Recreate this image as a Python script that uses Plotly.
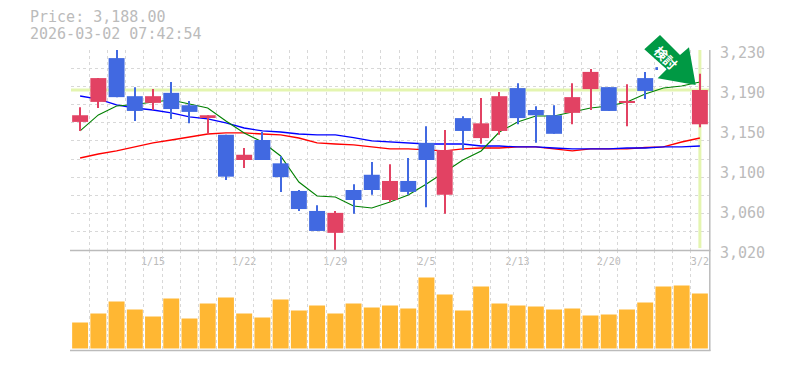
import plotly.graph_objects as go

W, H = 785, 370
L, R, T, B = 71, 709, 50, 350

dates = ["1/8","1/9","1/13","1/14","1/15","1/16","1/19","1/20","1/21","1/22","1/23","1/26","1/27","1/28","1/29",
         "1/30","2/2","2/3","2/4","2/5","2/6","2/9","2/10","2/12","2/13","2/16","2/17","2/18","2/19","2/20",
         "2/24","2/25","2/26","2/27","3/2"]
label_dates = ["1/15","1/22","1/29","2/5","2/13","2/20","3/2"]

opens = [3154.5,3175.5,3221.5,3181.5,3174.5,3185,3172,3159.5,3141,3114.5,3135.5,3111,3082,3061,3038,
         3083,3099,3072.5,3092.5,3132.5,3078,3158.5,3137.5,3145,3190,3167,3161.5,3164,3189,3191,
         3174.5,3200.5,3212,3217.5,3152]
closes = [3161.5,3200.5,3180.5,3166,3181.5,3168,3165,3161.5,3097,3120,3114.5,3096.5,3063,3040,3059,
          3072.5,3083,3092.5,3081,3114.5,3125,3145,3153,3181.5,3158.5,3161.5,3142,3180.5,3207,3166,
          3176.5,3187,3210,3202.5,3188]
highs = [3170,3200.5,3230,3191,3189,3196.5,3176.5,3161.5,3141,3127,3144,3118.5,3083,3067,3061,
         3089,3112.5,3110,3116.5,3150,3146,3160.5,3179.5,3186,3195,3171,3172,3195,3210,3191,
         3194,3207,3225,3221.5,3205]
lows = [3145,3169,3180.5,3155.5,3167,3157.5,3153,3142,3093.5,3106,3114.5,3081,3061,3040,3020,
        3058,3078,3070.5,3078,3065,3058,3125,3131.5,3141,3152,3132.5,3142,3152,3167,3166,
        3150,3178.5,3210,3200.5,3149]
ma_green = [3145,3161.8,3171.2,3172.8,3175.4,3177.5,3173.3,3169.1,3155.5,3142.9,3133.4,3118.7,3091.4,3076.7,3075.7,
            3066.2,3064.1,3070.4,3077.8,3089.3,3101.9,3114.5,3124,3143.9,3154.4,3160.7,3160.7,3164.9,3169.1,3171.2,
            3175.4,3183.8,3190.1,3192.2,3196.4]
ma_blue = [3181.7,3178.5,3172.3,3169.1,3167,3163.9,3159.7,3157.6,3153.4,3148.1,3145,3143.9,3141.8,3140.8,3140.8,
           3138.1,3134.5,3133.4,3132.4,3131.3,3131.3,3131.3,3129.2,3129.2,3128.2,3128.2,3127.1,3126.1,3126.1,3126.1,
           3127.1,3127.1,3128.2,3128.2,3129.2]
ma_red = [3116.6,3120.8,3124,3128.2,3132.4,3135.5,3138.7,3141.8,3142.9,3142.9,3141.8,3140.8,3137.6,3132.4,3131.3,
          3130.3,3128.2,3126.1,3126.1,3125,3124,3126.1,3127.1,3127.1,3128.2,3128.2,3126.1,3124,3126.1,3126.1,
          3126.1,3127.6,3128.2,3133.4,3137.6]
volumes = [26,35,47,39,32,50,30,45,51,35,31,49,38,43,35,45,41,43,40,71,54,38,62,45,43,42,39,40,33,34,39,46,62,63,55]

y_ticks = [3230,3188,3146,3104,3062,3020]
y_labels = ["3,230","3,190","3,150","3,100","3,060","3,020"]
last_price = 3188
title_lines = ["Price: 3,188.00", "2026-03-02 07:42:54"]

RED, BLUE, ORANGE = "#E24263", "#4169E1", "#FFB733"
GRID, AXIS, TEXT = "#D8D8D8", "#BBBBBB", "#BBBBBB"
PALE, ARROW = "#E4F5B0", "#009944"
FONT = "DejaVu Sans Mono"

n = len(dates)
xs = list(range(n))
up = [i for i in xs if closes[i] >= opens[i]]
down = [i for i in xs if closes[i] < opens[i]]

fig = go.Figure()
for vals, col, wd in [(ma_red, "#FF0000", 1.3), (ma_blue, "#0000FF", 1.3), (ma_green, "#008000", 1.1)]:
    fig.add_trace(go.Scatter(x=xs, y=vals, mode="lines", line=dict(color=col, width=wd), zorder=1, hoverinfo="skip"))

for idx, col in [(up, RED), (down, BLUE)]:
    fig.add_trace(go.Bar(x=idx, y=[highs[i]-lows[i] for i in idx], base=[lows[i] for i in idx], width=0.055,
                         marker=dict(color=col, line_width=0), zorder=2, hoverinfo="skip"))
    fig.add_trace(go.Bar(x=idx, y=[abs(closes[i]-opens[i]) for i in idx], base=[min(opens[i], closes[i]) for i in idx],
                         width=0.875, marker=dict(color=col, line_width=0), zorder=3, hoverinfo="skip"))

fig.add_trace(go.Bar(x=xs, y=volumes, width=0.875, marker=dict(color=ORANGE, line_width=0),
                     xaxis="x2", yaxis="y2", hoverinfo="skip"))

half = [i - 0.5 for i in range(n + 1)]
step = (y_ticks[0] - y_ticks[-1]) / 11
y_minor = [y_ticks[-1] + step * k for k in range(12)]
grid_style = dict(showgrid=True, gridcolor=GRID, griddash="3px,3px", gridwidth=1, ticks="")

fig.update_layout(
    width=W, height=H, autosize=False, showlegend=False, barmode="overlay",
    plot_bgcolor="white", paper_bgcolor="white",
    margin=dict(l=L, r=W-R, t=T, b=H-B, pad=0),
    font=dict(family=FONT, color=TEXT),
    xaxis=dict(domain=[0, 1], range=[-0.5, n-0.5], anchor="y", showgrid=False, zeroline=False, automargin=False,
               tickmode="array", tickvals=[dates.index(d) for d in label_dates], ticktext=label_dates,
               ticks="", tickfont=dict(family=FONT, size=10, color=TEXT), ticklabelstandoff=4,
               minor=dict(tickmode="array", tickvals=half, **grid_style)),
    yaxis=dict(domain=[1/3, 1], range=[y_ticks[-1], y_ticks[0]], anchor="x", side="right", zeroline=False, showgrid=False,
               automargin=False, tickmode="array", tickvals=y_ticks, ticktext=y_labels, ticks="",
               tickfont=dict(family=FONT, size=15, color=TEXT), ticklabelstandoff=10, ticklabelshift=3,
               minor=dict(tickmode="array", tickvals=y_minor, **grid_style)),
    xaxis2=dict(domain=[0, 1], range=[-0.5, n-0.5], anchor="y2", showgrid=False, zeroline=False, automargin=False,
                showticklabels=False, ticks="",
                tickmode="array", tickvals=[],
                minor=dict(tickmode="array", tickvals=half, **grid_style)),
    yaxis2=dict(domain=[0, 1/3], range=[-1.5, 98.5], anchor="x2", side="right", zeroline=False, showgrid=False,
                automargin=False, showticklabels=False, ticks=""),
)

def px(x, y):
    return (x - L) / (R - L), (B - y) / (B - T)

def path(points):
    p = [px(*q) for q in points]
    return "M " + " L ".join(f"{a:.5f},{b:.5f}" for a, b in p) + " Z"

# frame lines
for (x0, y0), (x1, y1), wd in [((70, 250.5), (710.5, 250.5), 1.5), ((70, 350.5), (710.5, 350.5), 1.5), ((709.8, 50), (709.8, 351), 1.5)]:
    a0, b0 = px(x0, y0)
    a1, b1 = px(x1, y1)
    fig.add_shape(type="line", xref="paper", yref="paper", x0=a0, y0=b0, x1=a1, y1=b1,
                  line=dict(color=AXIS, width=wd), layer="above")

# last-price cross hair, under the candles
fig.add_shape(type="line", xref="x", yref="y", x0=-0.5, x1=n-0.5, y0=last_price, y1=last_price,
              line=dict(color=PALE, width=3), layer="between")
fig.add_shape(type="line", xref="x", yref="y", x0=n-1, x1=n-1, y0=y_ticks[-1]+2, y1=y_ticks[0],
              line=dict(color=PALE, width=3), layer="between")

# the arrow badge
fig.add_shape(type="path", xref="paper", yref="paper", layer="above", line_width=0, fillcolor="white",
              path=path([(658, 61), (667, 69), (658, 78)]))
fig.add_shape(type="path", xref="paper", yref="paper", layer="above", line_width=0, fillcolor=ARROW,
              path=path([(644.3, 49.3), (660, 35), (680, 55), (689, 47.3), (695.7, 85), (657.7, 78.3), (666.7, 69.3)]))
bx, by = px(666, 57.5)
fig.add_annotation(xref="paper", yref="paper", x=bx, y=by, xanchor="center", yanchor="middle",
                   text="<b>検討</b>", textangle=45, showarrow=False,
                   font=dict(family="Noto Sans CJK JP", size=13, color="white"))

for line, yy in zip(title_lines, (16.5, 34)):
    ax, ay = px(29, yy)
    fig.add_annotation(xref="paper", yref="paper", x=ax, y=ay, xanchor="left", yanchor="middle", text=line, borderpad=0,
                       showarrow=False, font=dict(family=FONT, size=15, color=TEXT))

fig.write_html("out.html", config=dict(displayModeBar=False),
               post_script="document.body.style.margin='0';document.documentElement.style.overflow='hidden';")
